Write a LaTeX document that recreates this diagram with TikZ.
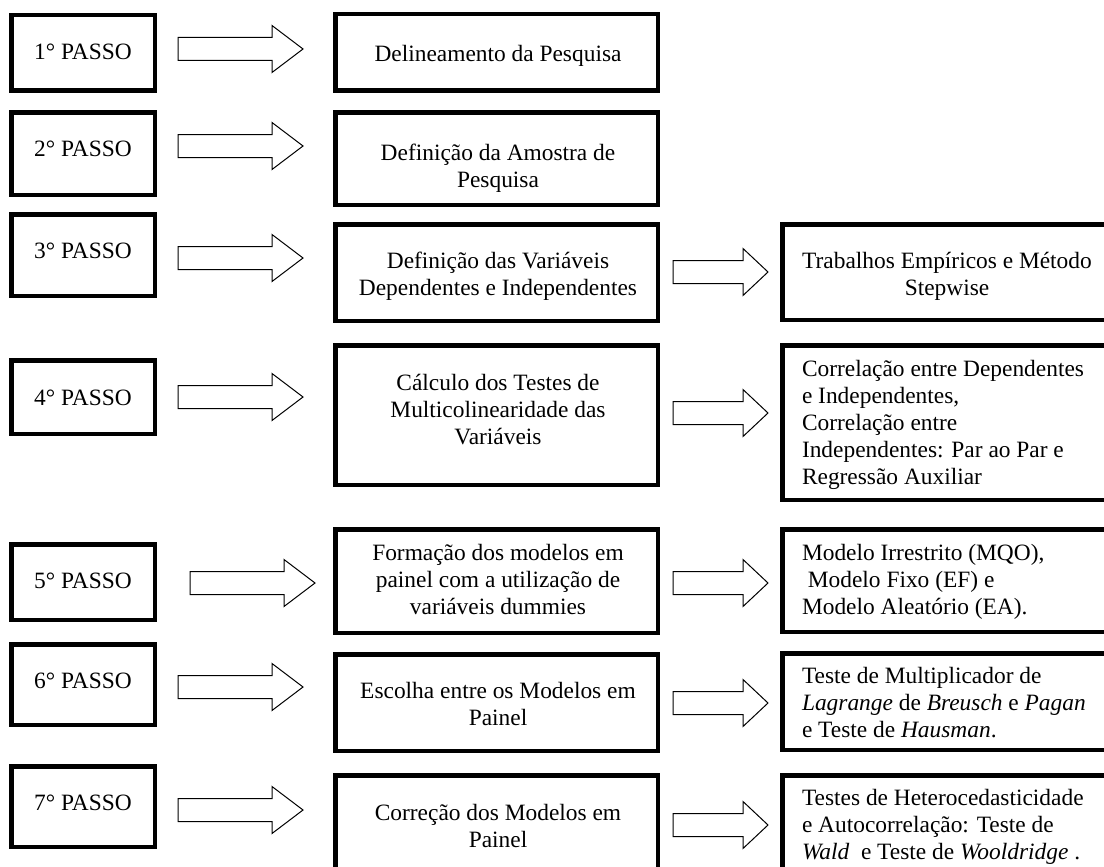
\documentclass[tikz,border=0pt]{standalone}
\usepackage{fontspec}
\setmainfont{Liberation Serif}
\usetikzlibrary{calc}
\newcommand\ls{\rule[-6pt]{0pt}{27pt}}
\newcommand\blockarrow[3]{%
  \draw[barrow] let \p1=(#1), \p2=(#2) in
    (\x1,\y1+11.5pt) -- (\x2-#3,\y1+11.5pt) -- (\x2-#3,\y1+23.5pt) -- (\x2,\y1)
    -- (\x2-#3,\y1-23.5pt) -- (\x2-#3,\y1-11.5pt) -- (\x1,\y1-11.5pt) -- cycle;}
\tikzset{
  box/.style={draw, line width=4.5pt, inner sep=0pt, outer sep=0pt},
  lbox/.style={box, minimum width=143.5pt},
  mbox/.style={box, minimum width=322.5pt},
  rbox/.style={box, minimum width=355pt},
  txt/.style={font=\fontsize{23.4}{27}\selectfont, inner sep=0pt, outer sep=0pt, align=center},
  ltxt/.style={txt, align=left, anchor=west},
  barrow/.style={draw, line width=1pt, fill=white, line join=miter},
}
\begin{document}
\begin{tikzpicture}[x=1pt,y=-1pt]
\useasboundingbox (0,0) rectangle (1104,867);
\clip (0,0) rectangle (1104,867);
% left boxes
\node[lbox, minimum height=75.5pt] (l1) at (83,53) {};
\node[lbox, minimum height=82.5pt] (l2) at (83,153.5) {};
\node[lbox, minimum height=81.5pt] (l3) at (83,255) {};
\node[lbox, minimum height=73.5pt] (l4) at (83,397) {};
\node[lbox, minimum height=75.5pt] (l5) at (83,582) {};
\node[lbox, minimum height=80.5pt] (l6) at (83,684.5) {};
\node[lbox, minimum height=80.5pt] (l7) at (83,806.5) {};
\node[txt] (l1t) at (83,52.5) {\ls 1° PASSO};
\node[txt] (l2t) at (83,149.5) {\ls 2° PASSO};
\node[txt] (l3t) at (83,250.5) {\ls 3° PASSO};
\node[txt] (l4t) at (83,397.5) {\ls 4° PASSO};
\node[txt] (l5t) at (83,580.5) {\ls 5° PASSO};
\node[txt] (l6t) at (83,680.5) {\ls 6° PASSO};
\node[txt] (l7t) at (83,802.5) {\ls 7° PASSO};
% middle boxes
\node[mbox, minimum height=76.5pt] (m1) at (496.5,52.5) {};
\node[mbox, minimum height=92.5pt] (m2) at (496.5,158.5) {};
\node[mbox, minimum height=96.5pt] (m3) at (496.5,272.5) {};
\node[mbox, minimum height=139.5pt] (m4) at (496.5,415) {};
\node[mbox, minimum height=103.5pt] (m5) at (496.5,581) {};
\node[mbox, minimum height=96.5pt] (m6) at (496.5,702.5) {};
\node[mbox, minimum height=107.5pt] (m7) at (496.5,829) {};
\node[txt] (m1t) at (498,54.5) {\ls Delineamento da Pesquisa};
\node[txt] (m2t) at (498,166) {\ls Definição da Amostra de\\\ls Pesquisa};
\node[txt] (m3t) at (498,274) {\ls Definição das Variáveis\\\ls Dependentes e Independentes};
\node[txt] (m4t) at (498,409.5) {\ls Cálculo dos Testes de\\\ls Multicolinearidade das\\\ls Variáveis};
\node[txt] (m5t) at (498,579.5) {\ls Formação dos modelos em\\\ls painel com a utilização de\\\ls variáveis dummies};
\node[txt] (m6t) at (498,704) {\ls Escolha entre os Modelos em\\\ls Painel};
\node[txt] (m7t) at (498,826) {\ls Correção dos Modelos em\\\ls Painel};
% right boxes (they run past the right edge of the picture)
\node[rbox, minimum height=95.5pt] (r3) at (960,272) {};
\node[rbox, minimum height=154.5pt] (r4) at (960,422.5) {};
\node[rbox, minimum height=102.5pt] (r5) at (960,580.5) {};
\node[rbox, minimum height=96.5pt] (r6) at (960,701.5) {};
\node[rbox, minimum height=107.5pt] (r7) at (960,829) {};
\node[txt] (r3t) at (947,274) {\ls Trabalhos Empíricos e Método\\\ls Stepwise};
\node[ltxt] (r4t) at (802,422.5) {\ls Correlação entre Dependentes\\\ls e Independentes,\\\ls Correlação entre\\\ls Independentes: Par ao Par e\\\ls Regressão Auxiliar};
\node[ltxt] (r5t) at (802,579.5) {\ls Modelo Irrestrito (MQO),\\\ls \hspace*{5.85pt}Modelo Fixo (EF) e\\\ls Modelo Aleatório (EA).};
\node[ltxt] (r6t) at (802,702.5) {\ls Teste de Multiplicador de\\\ls \textit{Lagrange} de \textit{Breusch} e \textit{Pagan}\\\ls e Teste de \textit{Hausman}.};
\node[ltxt] (r7t) at (802,824.5) {\ls Testes de Heterocedasticidade\\\ls e Autocorrelação: Teste de\\\ls \textit{Wald}\ \ e Teste de \textit{Wooldridge}\ .};
% arrow end points
\coordinate (a1s) at (178,49);  \coordinate (a1e) at (303,49);
\coordinate (a2s) at (178,146); \coordinate (a2e) at (303,146);
\coordinate (a3s) at (178,258); \coordinate (a3e) at (303,258);
\coordinate (a4s) at (178,397); \coordinate (a4e) at (303,397);
\coordinate (a5s) at (190,583); \coordinate (a5e) at (315,583);
\coordinate (a6s) at (178,687); \coordinate (a6e) at (303,687);
\coordinate (a7s) at (178,810); \coordinate (a7e) at (303,810);
\coordinate (b3s) at (673,272); \coordinate (b3e) at (768,272);
\coordinate (b4s) at (673,413); \coordinate (b4e) at (768,413);
\coordinate (b5s) at (673,583); \coordinate (b5e) at (768,583);
\coordinate (b6s) at (673,703); \coordinate (b6e) at (768,703);
\coordinate (b7s) at (673,825); \coordinate (b7e) at (768,825);
\blockarrow{a1s}{a1e}{31pt}
\blockarrow{a2s}{a2e}{31pt}
\blockarrow{a3s}{a3e}{31pt}
\blockarrow{a4s}{a4e}{31pt}
\blockarrow{a5s}{a5e}{31pt}
\blockarrow{a6s}{a6e}{31pt}
\blockarrow{a7s}{a7e}{31pt}
\blockarrow{b3s}{b3e}{25pt}
\blockarrow{b4s}{b4e}{25pt}
\blockarrow{b5s}{b5e}{25pt}
\blockarrow{b6s}{b6e}{25pt}
\blockarrow{b7s}{b7e}{25pt}
\end{tikzpicture}
\end{document}
